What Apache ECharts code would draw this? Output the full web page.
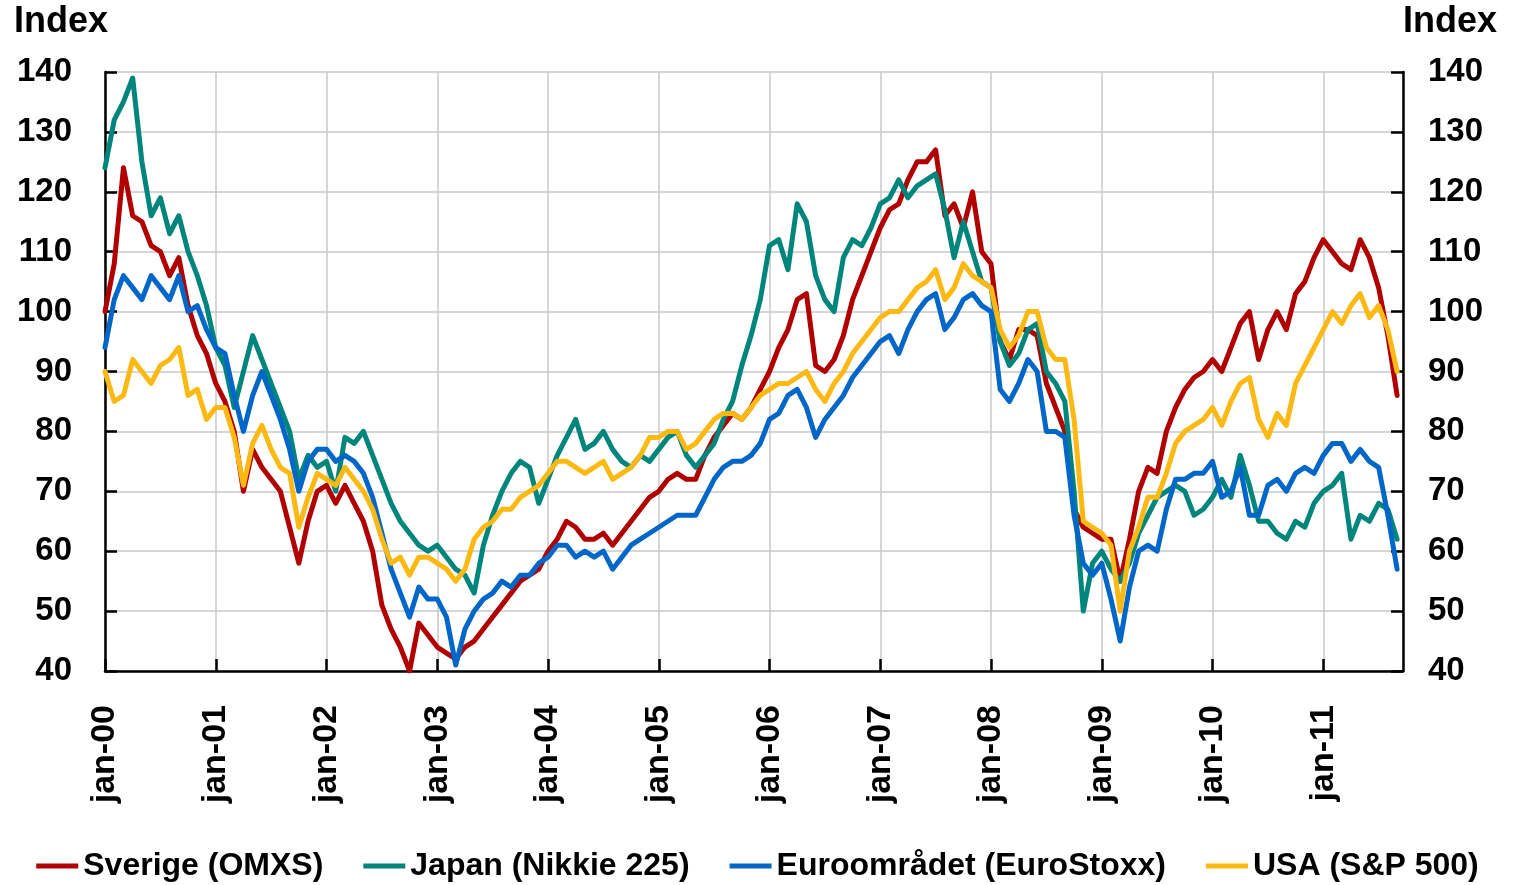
<!DOCTYPE html>
<html>
<head>
<meta charset="utf-8">
<title>Börsindex</title>
<script src="https://cdn.jsdelivr.net/npm/echarts@6/dist/echarts.min.js"></script>
<style>
  html, body { margin: 0; padding: 0; background: #fff; }
  #chart { width: 1515px; height: 885px; }
</style>
</head>
<body>
<div id="chart"></div>
<script>
// ── Data: monthly readings, index 0 = jan-00 ─────────────────────────────────
var yearLabels = ['jan-00', 'jan-01', 'jan-02', 'jan-03', 'jan-04', 'jan-05',
                  'jan-06', 'jan-07', 'jan-08', 'jan-09', 'jan-10', 'jan-11'];

var seriesNames = ['Sverige (OMXS)', 'Japan (Nikkie 225)',
                   'Euroområdet (EuroStoxx)', 'USA (S&P 500)'];

var sverige = [
  100, 108, 124, 116, 115, 111, 110, 106, 109, 101, 96, 93,
  88, 85, 80, 70, 77, 74, 72, 70, 64, 58, 65, 70,
  71, 68, 71, 68, 65, 60, 51, 47, 44, 40, 48, 46,
  44, 43, 42, 44, 45, 47, 49, 51, 53, 55, 56, 57,
  60, 62, 65, 64, 62, 62, 63, 61, 63, 65, 67, 69,
  70, 72, 73, 72, 72, 76, 79, 81, 83, 82, 84, 87,
  90, 94, 97, 102, 103, 91, 90, 92, 96, 102, 106, 110,
  114, 117, 118, 122, 125, 125, 127, 116, 118, 114, 120, 110,
  108, 95, 92, 97, 97, 96, 88, 84, 80, 67, 64, 63,
  62, 62, 55, 62, 70, 74, 73, 80, 84, 87, 89, 90,
  92, 90, 94, 98, 100, 92, 97, 100, 97, 103, 105, 109,
  112, 110, 108, 107, 112, 109, 104, 96, 86
];

var japan = [
  124, 132, 135, 139, 125, 116, 119, 113, 116, 110, 106, 101,
  94, 91, 84, 90, 96, 92, 88, 84, 80, 72, 76, 74,
  75, 70, 79, 78, 80, 76, 72, 68, 65, 63, 61, 60,
  61, 59, 57, 56, 53, 61, 66, 70, 73, 75, 74, 68,
  72, 76, 79, 82, 77, 78, 80, 77, 75, 74, 76, 75,
  77, 79, 80, 76, 74, 76, 78, 82, 85, 91, 96, 102,
  111, 112, 107, 118, 115, 106, 102, 100, 109, 112, 111, 114,
  118, 119, 122, 119, 121, 122, 123, 117, 109, 115, 110, 105,
  104, 95, 91, 93, 97, 98, 90, 88, 85, 70, 50, 58,
  60, 57, 55, 58, 63, 66, 69, 70, 71, 70, 66, 67,
  69, 72, 69, 76, 71, 65, 65, 63, 62, 65, 64, 68,
  70, 71, 73, 62, 66, 65, 68, 67, 62
];

var euro = [
  94, 102, 106, 104, 102, 106, 104, 102, 106, 100, 101, 97,
  94, 93, 86, 80, 86, 90, 86, 82, 77, 70, 75, 77,
  77, 75, 76, 75, 73, 69, 63, 57, 53, 49, 54, 52,
  52, 49, 41, 47, 50, 52, 53, 55, 54, 56, 56, 58,
  59, 61, 61, 59, 60, 59, 60, 57, 59, 61, 62, 63,
  64, 65, 66, 66, 66, 69, 72, 74, 75, 75, 76, 78,
  82, 83, 86, 87, 84, 79, 82, 84, 86, 89, 91, 93,
  95, 96, 93, 97, 100, 102, 103, 97, 99, 102, 103, 101,
  100, 87, 85, 88, 92, 90, 80, 80, 79, 66, 58, 56,
  58, 52, 45, 54, 60, 61, 60, 67, 72, 72, 73, 73,
  75, 69, 70, 74, 66, 66, 71, 72, 70, 73, 74, 73,
  76, 78, 78, 75, 77, 75, 74, 66, 57
];

var usa = [
  90, 85, 86, 92, 90, 88, 91, 92, 94, 86, 87, 82,
  84, 84, 79, 71, 78, 81, 77, 74, 73, 64, 69, 73,
  72, 71, 74, 72, 70, 67, 62, 58, 59, 56, 59, 59,
  58, 57, 55, 57, 62, 64, 65, 67, 67, 69, 70, 71,
  73, 75, 75, 74, 73, 74, 75, 72, 73, 74, 76, 79,
  79, 80, 80, 77, 78, 80, 82, 83, 83, 82, 84, 86,
  87, 88, 88, 89, 90, 87, 85, 88, 90, 93, 95, 97,
  99, 100, 100, 102, 104, 105, 107, 102, 104, 108, 106, 105,
  104, 97, 94, 96, 100, 100, 94, 92, 92, 82, 65, 64,
  63, 61, 50, 60, 64, 69, 69, 73, 78, 80, 81, 82,
  84, 81, 85, 88, 89, 82, 79, 83, 81, 88, 91, 94,
  97, 100, 98, 101, 103, 99, 101, 97, 90
];

var yTicks = { min: 40, max: 140, step: 10 };

// ── Style ────────────────────────────────────────────────────────────────────
var C = {
  red:    '#b00000',
  teal:   '#00857c',
  blue:   '#0067c8',
  yellow: '#fdb913',
  grid:   '#c8c8c8',
  axis:   '#000000'
};
var FONT = "'Liberation Sans', Arial, sans-serif";

// month index -> years since jan-00
function toPoints(values) {
  return values.map(function(v, i) { return [i / 12, v]; });
}

function lineSeries(name, values, color) {
  return {
    name: name,
    type: 'line',
    data: toPoints(values),
    showSymbol: false,
    symbol: 'none',
    lineStyle: { color: color, width: 5, join: 'round', cap: 'round' },
    itemStyle: { color: color },
    animation: false
  };
}

function yAxis(pos, margin, showSplit) {
  return {
    type: 'value',
    position: pos,
    min: yTicks.min,
    max: yTicks.max,
    interval: yTicks.step,
    axisLine: { show: true, lineStyle: { color: C.axis, width: 2.5 } },
    axisTick: { show: true, inside: true, length: 12, lineStyle: { color: C.axis, width: 2.5 } },
    axisLabel: { color: '#000', fontFamily: FONT, fontWeight: 'bold', fontSize: 33, margin: margin },
    splitLine: { show: showSplit, lineStyle: { color: C.grid, width: 1.5 } }
  };
}

var chart = echarts.init(document.getElementById('chart'), null, { renderer: 'canvas' });

chart.setOption({
  backgroundColor: '#ffffff',
  animation: false,
  grid: { left: 105, right: 112, top: 72, bottom: 214, containLabel: false },
  xAxis: {
    type: 'value',
    min: 0,
    max: 11.72,
    interval: 1,
    axisLine: { show: true, onZero: false, lineStyle: { color: C.axis, width: 2.5 } },
    axisTick: { show: true, inside: true, length: 12, lineStyle: { color: C.axis, width: 2.5 } },
    axisLabel: {
      rotate: 90,
      margin: 34,
      color: '#000',
      fontFamily: FONT,
      fontWeight: 'bold',
      fontSize: 34,
      showMaxLabel: false,
      formatter: function(v) {
        var k = Math.round(v);
        if (Math.abs(v - k) > 0.01) return '';
        return yearLabels[k] || '';
      }
    },
    splitLine: { show: true, lineStyle: { color: C.grid, width: 1.5 } }
  },
  yAxis: [yAxis('left', 33, true), yAxis('right', 25, false)],
  legend: {
    data: seriesNames,
    left: 'center',
    top: 845,
    icon: 'rect',
    itemWidth: 42,
    itemHeight: 5,
    itemGap: 40,
    textStyle: { color: '#000', fontFamily: FONT, fontWeight: 'bold', fontSize: 32 }
  },
  graphic: [
    { type: 'text', left: 14, top: 4,
      style: { text: 'Index', fill: '#000', font: 'bold 36px ' + FONT } },
    { type: 'text', right: 18, top: 4,
      style: { text: 'Index', fill: '#000', font: 'bold 36px ' + FONT } }
  ],
  series: [
    lineSeries(seriesNames[0], sverige, C.red),
    lineSeries(seriesNames[1], japan, C.teal),
    lineSeries(seriesNames[2], euro, C.blue),
    lineSeries(seriesNames[3], usa, C.yellow)
  ]
});

window.addEventListener('resize', function() { chart.resize(); });
</script>
</body>
</html>
